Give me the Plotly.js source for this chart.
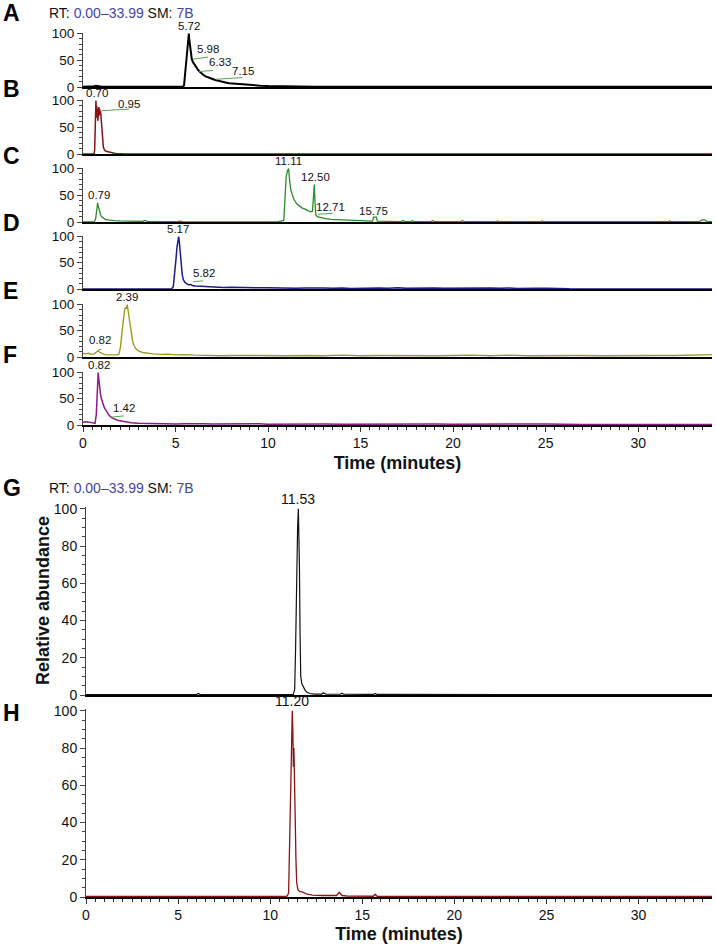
<!DOCTYPE html>
<html>
<head>
<meta charset="utf-8">
<script src="https://cdn.plot.ly/plotly-3.0.1.min.js"></script>
<style>html,body{margin:0;padding:0;background:#fff;}#chart{width:717px;height:944px;}</style>
</head>
<body>
<div id="chart"></div>
<script>
// ---------- DATA ----------
const timeA = [0,0.3,0.5,0.6,0.7,0.8,0.9,1.0,1.5,2.5,3.4,3.5,3.7,3.9,4.1,4.3,4.5,5.0,5.40,5.46,5.52,5.58,5.63,5.67,5.70,5.72,5.74,5.77,5.80,5.84,5.88,5.93,5.98,6.05,6.12,6.20,6.27,6.33,6.42,6.52,6.63,6.75,6.88,7.00,7.15,7.30,7.50,7.70,7.90,8.20,8.50,8.80,9.20,9.60,10.0,10.4,10.8,11.5,12.5,14,17,20,24,28,31,33.99];
const abundA = [0.3,0.4,0.5,1.5,2.5,2,1,0.4,0.3,0.3,0.5,1.2,0.8,1.3,0.9,1.1,0.4,0.3,0.5,3,25,50,62,80,92,100,90,82,68,58,52,47,44,40,36,33,30,28,25,22,20,18,16,15,13,11.5,10,8.5,7,6,5,4,3,2.5,1.8,1.5,1.2,0.8,0.5,0.4,0.3,0.3,0.3,0.3,0.3,0.3];

const timeB = [0,0.5,0.6,0.63,0.66,0.68,0.70,0.72,0.74,0.76,0.78,0.80,0.82,0.84,0.86,0.88,0.90,0.92,0.95,0.98,1.01,1.04,1.07,1.10,1.14,1.20,1.30,1.40,1.50,1.60,1.70,1.80,1.90,2.2,5,10,20,33.99];
const abundB = [0,0,0.5,8,55,85,100,75,90,68,85,62,80,70,88,72,84,76,80,62,45,30,20,13,9,6,4.5,3.5,3,2.2,1.5,1,0.5,0.2,0,0,0,0];

const timeC = [0,0.6,0.68,0.72,0.76,0.79,0.82,0.86,0.90,0.95,1.0,1.1,1.2,1.35,1.5,1.7,2.0,2.3,2.6,2.9,3.2,3.35,3.45,3.6,4.0,5.1,5.25,5.4,7,9,10.5,10.85,10.92,10.98,11.04,11.11,11.16,11.22,11.30,11.40,11.55,11.70,11.85,12.0,12.15,12.30,12.40,12.45,12.50,12.54,12.58,12.65,12.75,12.9,13.1,13.4,13.7,14.0,14.5,15.0,15.5,15.65,15.7,15.85,15.9,16.5,17.2,17.3,17.4,17.7,17.8,17.9,18.8,18.9,19.0,20.4,20.5,20.6,22.3,22.4,22.5,24.7,24.8,24.9,31.6,31.7,31.8,33.3,33.45,33.6,33.75,33.99];
const abundC = [0.3,0.5,5,22,32,36,30,24,18,14,10,7,5,4,3,2.5,2,1.8,1.5,1.2,1,3,1,0.8,0.6,0.5,1.5,0.5,0.4,0.4,0.4,3,40,85,95,100,80,62,52,42,34,30,26,24,22,19,20,60,70,35,14,10,9,8,6.5,5,4.5,3.5,3,2,1.5,1.5,9,9,1.5,1,0.8,3,0.8,0.8,2.5,0.8,0.7,2.5,0.7,0.6,2.5,0.6,0.5,2,0.5,0.5,2,0.5,0.5,2,0.5,0.5,4,4,0.5,0.5];

const timeD = [0,4.0,4.8,4.88,4.95,5.02,5.08,5.12,5.17,5.21,5.25,5.30,5.36,5.42,5.50,5.60,5.70,5.82,5.95,6.1,6.3,6.5,6.8,7.2,7.6,8.0,8.5,9.0,9.5,10.0,10.5,11,11.5,12,12.5,13,13.5,14,14.5,15,15.5,16,16.5,17,17.5,18,18.5,19,19.5,20,20.5,21,21.5,22,22.5,23,23.5,24,24.5,25,25.5,26,26.3,33.99];
const abundD = [0.2,0.2,0.5,5,25,55,80,92,100,88,70,45,28,18,13,10,8,8.5,6,5.5,5,4.5,4,3.5,3,3.2,2.5,2.8,2.2,2.5,2,2.2,1.5,2,1.2,1.8,1.5,2,1,1.8,1.2,2,1.5,2.2,1.2,1.8,1,2,1.5,1.8,1,2,1.5,1.8,1.2,2,1,1.8,1.2,1.5,1,1.5,0.3,0.2];

const timeE = [0,0.15,0.3,0.45,0.6,0.75,0.82,0.9,1.0,1.15,1.3,1.5,1.7,1.85,1.95,2.03,2.1,2.17,2.24,2.30,2.35,2.39,2.43,2.48,2.53,2.60,2.68,2.76,2.85,2.95,3.1,3.3,3.5,3.8,4.2,4.6,5.0,5.5,6.0,6.5,7,7.5,8,9,10,11,12,13,14,15,16,17,18,19,20,21,22,23,24,25,26,27,28,29,30,31,32,32.8,33.3,33.7,33.99];
const abundE = [7,6,7,5,6,9,12,9,7,5,4,3.5,3.5,4,6,20,45,70,88,95,92,100,90,78,58,42,30,22,16,13,10,8,7,6,5,5.5,4,4.5,3.5,3,3.5,2.5,3,2.5,3,2.5,3,2.5,3.5,2.5,3,2.5,3,2.5,3,3.5,2.5,3.5,2.5,3,3.5,3,2.5,3,2.5,3,3,3.5,4.5,5,4.5];

const timeF = [0,0.2,0.4,0.55,0.65,0.72,0.76,0.80,0.82,0.86,0.90,0.95,1.0,1.06,1.12,1.2,1.3,1.42,1.55,1.7,1.85,2.0,2.3,2.6,3.0,3.5,4,4.5,5,5.5,6,6.5,7,7.5,8,8.5,9,9.5,10,11,12,13,14,15,16,17,18,19,20,21,22,23,24,25,26,27,30,33.99];
const abundF = [5,6,5,4,3,20,60,90,100,85,70,58,50,42,36,30,24,18,14,11,9,8,6,4.5,3.5,3,2.5,2.8,2,2.5,1.8,2.5,2,2.2,1.8,2.5,2,2.2,1.5,2,1.5,2,1.5,1.8,1.5,2,1.5,2,1.5,1.8,1.5,2,1.5,1.8,1.5,1,1,1];

const timeG = [0,6.0,6.1,6.2,11.25,11.33,11.38,11.42,11.46,11.49,11.53,11.56,11.59,11.62,11.66,11.72,11.8,11.9,12.0,12.15,12.4,12.8,12.9,13.0,13.8,13.9,14.0,15.6,15.7,15.8,33.99];
const abundG = [0.2,0.2,0.8,0.2,0.2,3,25,62,68,90,100,88,68,35,10,6,4,2.5,1.5,0.8,0.5,0.5,1.2,0.5,0.4,1,0.4,0.3,0.8,0.3,0.2];

const timeH = [0,10.9,11.0,11.06,11.12,11.17,11.20,11.23,11.26,11.29,11.32,11.36,11.40,11.44,11.5,11.6,11.8,12.0,12.3,12.8,13.3,13.6,13.75,13.9,14.2,15.6,15.7,15.8,33.99];
const abundH = [0.3,0.3,2,25,60,85,100,90,70,80,60,45,20,8,4,3,2.5,1.5,1,0.8,0.6,0.8,2.5,0.8,0.5,0.4,1.5,0.4,0.3];

const panelLetters = ['A','B','C','D','E','F','G','H'];
const peakLabelsA = ['5.72','5.98','6.33','7.15'];
const peakLabelsB = ['0.70','0.95'];
const peakLabelsC = ['0.79','11.11','12.50','12.71','15.75'];
const peakLabelsD = ['5.17','5.82'];
const peakLabelsE = ['0.82','2.39'];
const peakLabelsF = ['0.82','1.42'];
const peakLabelsG = ['11.53'];
const peakLabelsH = ['11.20'];
const rtRange = '0.00–33.99';
const smValue = '7B';
const xTickStep = 5;
const timeMax = 33.99;

// ---------- LAYOUT HELPERS ----------
const W = 717, H = 944;
const FONT = 'Liberation Sans, Arial, sans-serif';
const px = v => v / W;
const py = v => 1 - v / H;

// panel geometry (pixels) and styling
const panels = [
  {t:34,  b:87,  l:83, r:712, dt:50, mn:10, tickX:false, color:'#000000', lw:2.0, times:timeA, vals:abundA, letterY:13},
  {t:101, b:154, l:83, r:712, dt:50, mn:10, tickX:false, color:'#8b1212', lw:1.5, times:timeB, vals:abundB, letterY:89},
  {t:169, b:222, l:83, r:712, dt:50, mn:10, tickX:false, color:'#2b8a2b', lw:1.3, times:timeC, vals:abundC, letterY:156},
  {t:237, b:289, l:83, r:712, dt:50, mn:10, tickX:false, color:'#1c1c82', lw:1.5, times:timeD, vals:abundD, letterY:223},
  {t:305, b:357, l:83, r:712, dt:50, mn:10, tickX:false, color:'#9c9c22', lw:1.4, times:timeE, vals:abundE, letterY:291},
  {t:373, b:425, l:83, r:712, dt:50, mn:10, tickX:true,  color:'#8b1a8b', lw:1.5, times:timeF, vals:abundF, letterY:355},
  {t:508, b:695, l:86, r:712, dt:20, mn:5,  tickX:false, color:'#111111', lw:1.2, times:timeG, vals:abundG, letterY:488},
  {t:710, b:897, l:86, r:712, dt:20, mn:5,  tickX:true,  color:'#8b1515', lw:1.3, times:timeH, vals:abundH, letterY:713}
];

const traces = [];
const layout = {
  width: W, height: H,
  margin: {l:0, r:0, t:0, b:0},
  paper_bgcolor: '#ffffff', plot_bgcolor: 'rgba(0,0,0,0)',
  showlegend: false,
  font: {family: FONT, color: '#111'},
  annotations: [], shapes: []
};

panels.forEach((p, i) => {
  const n = i + 1;
  const xn = n === 1 ? 'xaxis' : 'xaxis' + n;
  const yn = n === 1 ? 'yaxis' : 'yaxis' + n;
  const xr = n === 1 ? 'x' : 'x' + n;
  const yr = n === 1 ? 'y' : 'y' + n;
  const big = p.dt === 20;
  traces.push({
    type: 'scatter', mode: 'lines', x: p.times, y: p.vals,
    xaxis: xr, yaxis: yr, line: {color: p.color, width: p.lw}, hoverinfo: 'skip'
  });
  layout[xn] = {
    domain: [px(p.l), px(p.r)], range: [0, timeMax], anchor: yr,
    showline: true, linecolor: '#000', linewidth: p.tickX ? 1.5 : 2,
    showgrid: false, zeroline: false,
    ticks: p.tickX ? 'outside' : '', ticklen: 5, tickcolor: '#333', tickwidth: 1,
    tick0: 0, dtick: xTickStep, showticklabels: p.tickX,
    tickfont: {family: FONT, size: 14, color: '#111'},
    minor: p.tickX ? {ticks: 'outside', dtick: 0.5, ticklen: 3, tickcolor: '#333', showgrid: false} : {ticks: ''},
    fixedrange: true
  };
  if (p.tickX) {
    layout[xn].title = {text: '<b>Time (minutes)</b>', font: {family: FONT, size: 18, color: '#111'}, standoff: 6};
  }
  layout[yn] = {
    domain: [py(p.b), py(p.t - 1)], range: [0, 101], anchor: xr,
    showline: true, linecolor: '#444', linewidth: 1,
    showgrid: false, zeroline: false,
    ticks: 'outside', ticklen: 5, tickcolor: '#444', tickwidth: 1,
    tick0: 0, dtick: p.dt,
    tickfont: {family: FONT, size: big ? 14 : 13.5, color: '#111'},
    minor: {ticks: 'outside', dtick: p.mn, ticklen: 3, tickcolor: '#444', showgrid: false},
    fixedrange: true
  };
  layout.annotations.push({
    xref: 'paper', yref: 'paper', x: px(1), y: py(p.letterY), xanchor: 'left', yanchor: 'middle',
    text: '<b>' + panelLetters[i] + '</b>', showarrow: false,
    font: {family: FONT, size: 23, color: '#000'}
  });
});

// RT header lines
[13, 488].forEach(yy => {
  layout.annotations.push({
    xref: 'paper', yref: 'paper', x: px(47), y: py(yy), xanchor: 'left', yanchor: 'middle',
    text: 'RT: <span style="color:#4545a5">' + rtRange + '</span> SM: <span style="color:#4545a5">' + smValue + '</span>',
    showarrow: false, font: {family: FONT, size: 14, color: '#111'}
  });
});

// y-axis title (bottom block)
layout.annotations.push({
  xref: 'paper', yref: 'paper', x: px(43), y: py(601), xanchor: 'center', yanchor: 'middle',
  text: '<b>Relative abundance</b>', textangle: -90, showarrow: false,
  font: {family: FONT, size: 18, color: '#111'}
});

// peak labels: [panel index, text, time, abundance, anchor]
const labelPlacement = [
  [0, peakLabelsA[0], 5.72, 100, 'bottom'], [0, peakLabelsA[1], 6.73, 71, 'middle'],
  [0, peakLabelsA[2], 7.38, 47, 'middle'], [0, peakLabelsA[3], 8.62, 29, 'middle'],
  [1, peakLabelsB[0], 0.76, 100, 'bottom'], [1, peakLabelsB[1], 2.49, 94, 'middle'],
  [2, peakLabelsC[0], 0.86, 50, 'middle'], [2, peakLabelsC[1], 11.08, 100, 'bottom'],
  [2, peakLabelsC[2], 12.54, 84, 'middle'], [2, peakLabelsC[3], 13.35, 28, 'middle'],
  [2, peakLabelsC[4], 15.70, 21, 'middle'],
  [3, peakLabelsD[0], 5.15, 100, 'bottom'], [3, peakLabelsD[1], 6.52, 31, 'middle'],
  [4, peakLabelsE[0], 0.94, 33, 'middle'], [4, peakLabelsE[1], 2.38, 100, 'bottom'],
  [5, peakLabelsF[0], 0.87, 100, 'bottom'], [5, peakLabelsF[1], 2.20, 33, 'middle'],
  [6, peakLabelsG[0], 11.51, 100, 'bottom'],
  [7, peakLabelsH[0], 11.19, 100, 'bottom']
];
labelPlacement.forEach(([pi, txt, xx, yy, anc]) => {
  const n = pi + 1;
  layout.annotations.push({
    xref: n === 1 ? 'x' : 'x' + n, yref: n === 1 ? 'y' : 'y' + n,
    x: xx, y: yy, xanchor: 'center', yanchor: anc, text: txt, showarrow: false,
    font: {family: FONT, size: pi >= 6 ? 14 : 11.5, color: '#111'}
  });
});

// green leader lines: [panel index, t0, a0, t1, a1]
const leaders = [
  [0, 5.95, 52, 6.76, 56], [0, 6.27, 29, 7.03, 31], [0, 7.17, 14.5, 8.61, 17.6],
  [1, 1.00, 81, 2.50, 84],
  [2, 12.70, 14.5, 13.50, 16.4],
  [3, 5.95, 14, 6.49, 15.4],
  [4, 0.83, 13, 1.00, 15],
  [5, 1.55, 15, 2.22, 17.3]
];
leaders.forEach(([pi, x0, y0, x1, y1]) => {
  const n = pi + 1;
  layout.shapes.push({
    type: 'line', xref: n === 1 ? 'x' : 'x' + n, yref: n === 1 ? 'y' : 'y' + n,
    x0: x0, y0: y0, x1: x1, y1: y1, line: {color: '#55a855', width: 1}
  });
});

Plotly.newPlot('chart', traces, layout, {staticPlot: true, displayModeBar: false});
</script>
</body>
</html>
